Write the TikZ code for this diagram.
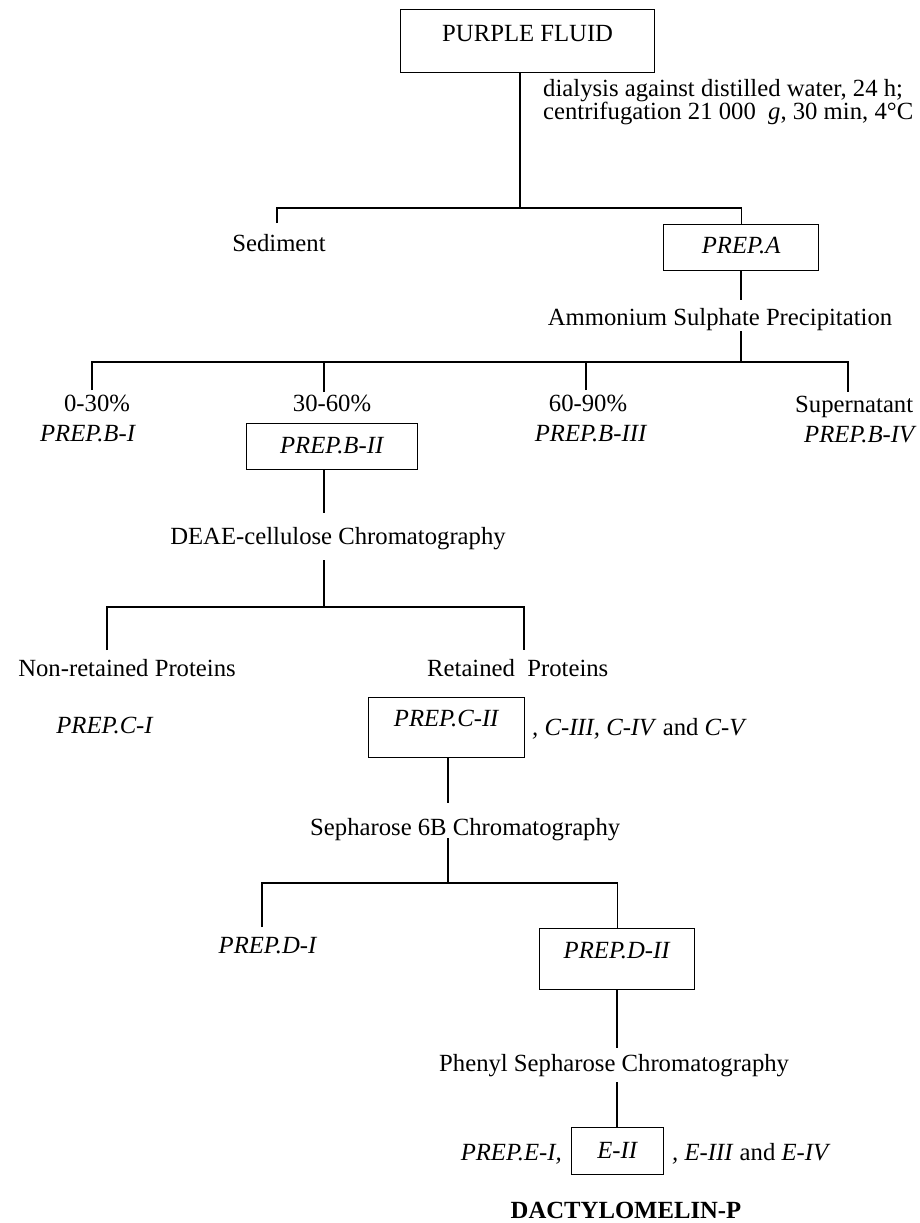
\documentclass[tikz,border=0pt]{standalone}
\usepackage{fontspec}
\setmainfont{Liberation Serif}
\begin{document}
\begin{tikzpicture}[x=1pt,y=-1pt,
  every node/.style={inner sep=0pt, font=\fontsize{24.7}{29}\selectfont},
  conn/.style={line width=1.3pt},
  pbox/.style={draw, line width=1.3pt, anchor=north west, inner sep=0pt},
  txt/.style={anchor=base},
  txtl/.style={anchor=base west},
  txtr/.style={anchor=base east}]
\useasboundingbox[fill=white] (0,0) rectangle (919,1223);

% top box
\node[pbox, minimum width=254pt, text height=32pt, text depth=31pt] (B1) at (400,9) {PURPLE FLUID};
\node[txtl] (dial1) at (543,96) {dialysis against distilled water, 24 h;};
\node[txtl] (dial2) at (543,119) {centrifugation 21 000\ \ \textit{g}, 30 min, 4°C};

\coordinate (j1) at (520,208);
\coordinate (sedT) at (277,223);
\draw[conn] (B1.south -| j1) -- (j1);
\node[txt] (sed) at (279,251) {Sediment};
\node[pbox, minimum width=155pt, text height=29pt, text depth=17pt] (A) at (663,224) {\textit{PREP.A}};
\draw[conn] (sedT) |- (j1) -| (A.north);

\coordinate (am1) at (741,300);
\draw[conn] (A.south -| am1) -- (am1);
\node[txt] (amm) at (720,325) {Ammonium Sulphate Precipitation};
\coordinate (am2) at (741,331);
\coordinate (h2) at (741,362);
\draw[conn] (am2) -- (h2);

\coordinate (p1) at (92,390);
\coordinate (p2) at (324,392);
\coordinate (p3) at (586,390);
\coordinate (p4) at (848,392);
\draw[conn] (p1) |- (p4 |- h2) -- (p4);
\draw[conn] (p2) -- (p2 |- h2);
\draw[conn] (p3) -- (p3 |- h2);

\node[txt] (f1) at (97,411) {0-30\%};
\node[txt] (pb1) at (88,441) {\textit{PREP.B-I}};
\node[txt] (f2) at (332,411) {30-60\%};
\node[pbox, minimum width=171pt, text height=30pt, text depth=16pt] (B2) at (246,423) {\textit{PREP.B-II}};
\node[txt] (f3) at (588,411) {60-90\%};
\node[txt] (pb3) at (591,441) {\textit{PREP.B-III}};
\node[txtl] (f4) at (795,412) {Supernatant};
\node[txtl] (pb4) at (804,442) {\textit{PREP.B-IV}};

\coordinate (d1) at (324,513);
\draw[conn] (B2.south -| d1) -- (d1);
\node[txt] (deae) at (338,544) {DEAE-cellulose Chromatography};
\coordinate (d2) at (324,560);
\coordinate (h3) at (324,607);
\draw[conn] (d2) -- (h3);
\coordinate (n1) at (107,650);
\coordinate (r1) at (524,650);
\draw[conn] (n1) |- (r1 |- h3) -- (r1);

\node[txt] (nonret) at (127,676) {Non-retained Proteins};
\node[txtl] (ret) at (427,676) {Retained\ \ Proteins};
\node[txt] (pc1) at (105,733) {\textit{PREP.C-I}};
\node[pbox, minimum width=156pt, text height=29pt, text depth=31pt] (C2) at (368,697) {\textit{PREP.C-II}};
\node[txtl] (cmore) at (532,735) {\textit{, C-III, C-IV} and \textit{C-V}};

\coordinate (s1) at (448,803);
\draw[conn] (C2.south -| s1) -- (s1);
\node[txtl] (seph) at (310,835) {Sepharose 6B Chromatography};
\coordinate (s2) at (448,838);
\coordinate (h4) at (448,883);
\draw[conn] (s2) -- (h4);
\coordinate (dl) at (262,927);
\node[pbox, minimum width=155pt, text height=30pt, text depth=31pt] (D2) at (539,928) {\textit{PREP.D-II}};
\draw[conn] (dl) |- (D2.north |- h4) -- (D2.north);
\node[txt] (pd1) at (268,953) {\textit{PREP.D-I}};

\coordinate (ph1) at (617,1048);
\draw[conn] (D2.south -| ph1) -- (ph1);
\node[txtl] (phen) at (439,1071) {Phenyl Sepharose Chromatography};
\coordinate (ph2) at (617,1082);
\node[pbox, minimum width=92pt, text height=31pt, text depth=16pt] (E2) at (571,1127) {\textit{E-II}};
\draw[conn] (ph2) -- (E2.north -| ph2);
\node[txtr] (pe1) at (562,1160) {\textit{PREP.E-I,}};
\node[txtl] (emore) at (672,1160) {\textit{, E-III} and \textit{E-IV}};
\node[txt] (dact) at (626,1218) {\textbf{DACTYLOMELIN-P}};
\end{tikzpicture}
\end{document}
